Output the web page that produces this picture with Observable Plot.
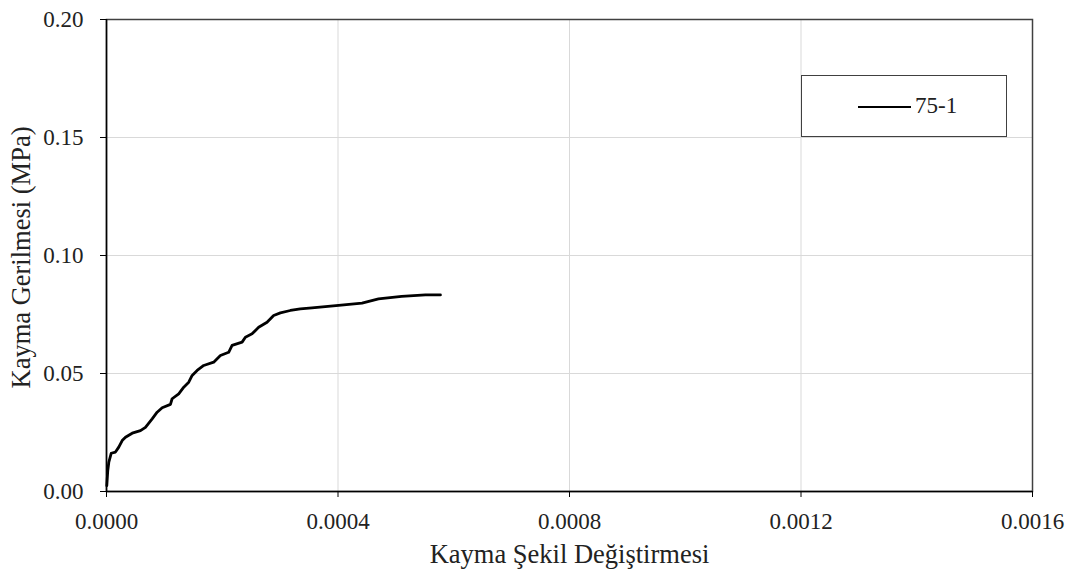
<!DOCTYPE html>
<html><head><meta charset="utf-8">
<script src="https://cdn.jsdelivr.net/npm/d3@7"></script>
<script src="https://cdn.jsdelivr.net/npm/@observablehq/plot@0.6"></script>
<style>
body{margin:0;background:#fff;font-family:"Liberation Serif","Times New Roman",serif}
#wrap{position:relative;width:1071px;height:572px}
#legend{position:absolute;left:801px;top:75px;width:204px;height:60px;border:1.5px solid #404040;background:#fff}
#legend .ln{position:absolute;left:56px;top:30px;width:53px;height:0;border-top:2.5px solid #000}
#legend .tx{position:absolute;left:113px;top:15px;font-family:"Liberation Serif",serif;font-size:23px;line-height:30px;color:#222}
</style></head><body>
<div id="wrap"></div>
<script>
const seriesName = "75-1";
const strain = [0.0000005, 0.0000022, 0.000004, 0.0000081, 0.0000155, 0.0000212, 0.0000271, 0.0000328, 0.0000444, 0.0000587, 0.0000673, 0.0000789, 0.0000875, 0.0000962, 0.0001105, 0.0001134, 0.0001248, 0.0001335, 0.0001421, 0.000148, 0.0001566, 0.000168, 0.0001852, 0.0001968, 0.0002111, 0.000217, 0.0002343, 0.00024, 0.0002515, 0.0002629, 0.0002774, 0.0002888, 0.0003004, 0.0003177, 0.0003349, 0.000355, 0.000401, 0.0004415, 0.00047, 0.00051, 0.000551, 0.000577];
const stress = [0.0025, 0.0089, 0.0124, 0.0162, 0.0167, 0.0188, 0.0216, 0.0230, 0.0247, 0.0258, 0.0272, 0.0308, 0.0336, 0.0355, 0.0369, 0.0393, 0.0414, 0.0442, 0.0463, 0.0492, 0.0513, 0.0534, 0.0548, 0.0576, 0.0590, 0.0619, 0.0633, 0.0654, 0.0668, 0.0696, 0.0717, 0.0746, 0.0757, 0.0767, 0.0774, 0.0778, 0.0789, 0.0798, 0.0816, 0.0827, 0.0833, 0.0833];
const xTicks = [0, 0.0004, 0.0008, 0.0012, 0.0016];
const yTicks = [0, 0.05, 0.10, 0.15, 0.20];
const xTitle = "Kayma Şekil Değiştirmesi";
const yTitle = "Kayma Gerilmesi (MPa)";

const data = strain.map((s, i) => ({x: s, y: stress[i]}));
const serif = "'Liberation Serif','Times New Roman',serif";

const chart = Plot.plot({
  width: 1071,
  height: 572,
  marginLeft: 106,
  marginRight: 39,
  marginTop: 19,
  marginBottom: 81,
  style: {fontFamily: serif, fontSize: "23px", color: "#222", background: "#fff"},
  x: {domain: [0, 0.0016]},
  y: {domain: [0, 0.20]},
  marks: [
    Plot.gridX(xTicks, {stroke: "#d9d9d9", strokeOpacity: 1, strokeWidth: 1}),
    Plot.gridY(yTicks, {stroke: "#d9d9d9", strokeOpacity: 1, strokeWidth: 1}),
    Plot.frame({stroke: "#404040", strokeWidth: 1.5}),
    Plot.ruleX([0], {stroke: "#000", strokeWidth: 1.5}),
    Plot.ruleY([0], {stroke: "#000", strokeWidth: 1.5}),
    Plot.axisX(xTicks, {tickFormat: d3.format(".4f"), tickSize: 6, tickPadding: 15, label: null, stroke: "#000", fontSize: 23, fontFamily: serif}),
    Plot.axisY(yTicks, {tickFormat: d3.format(".2f"), tickSize: 6, tickPadding: 17, label: null, stroke: "#000", fontSize: 23, fontFamily: serif}),
    Plot.line(data, {x: "x", y: "y", stroke: "#000", strokeWidth: 2.8, curve: "linear"}),
    Plot.text([xTitle], {frameAnchor: "bottom", dy: 63, fontSize: 26.5, fontFamily: serif, fill: "#222", lineAnchor: "middle", textAnchor: "middle"}),
    Plot.text([yTitle], {frameAnchor: "left", dx: -85, dy: 2, rotate: -90, fontSize: 26.5, fontFamily: serif, fill: "#222", lineAnchor: "middle", textAnchor: "middle"})
  ]
});
const wrap = document.getElementById("wrap");
wrap.appendChild(chart);
const leg = document.createElement("div");
leg.id = "legend";
leg.innerHTML = '<div class="ln"></div><div class="tx"></div>';
leg.querySelector(".tx").textContent = seriesName;
wrap.appendChild(leg);
</script>
</body></html>
